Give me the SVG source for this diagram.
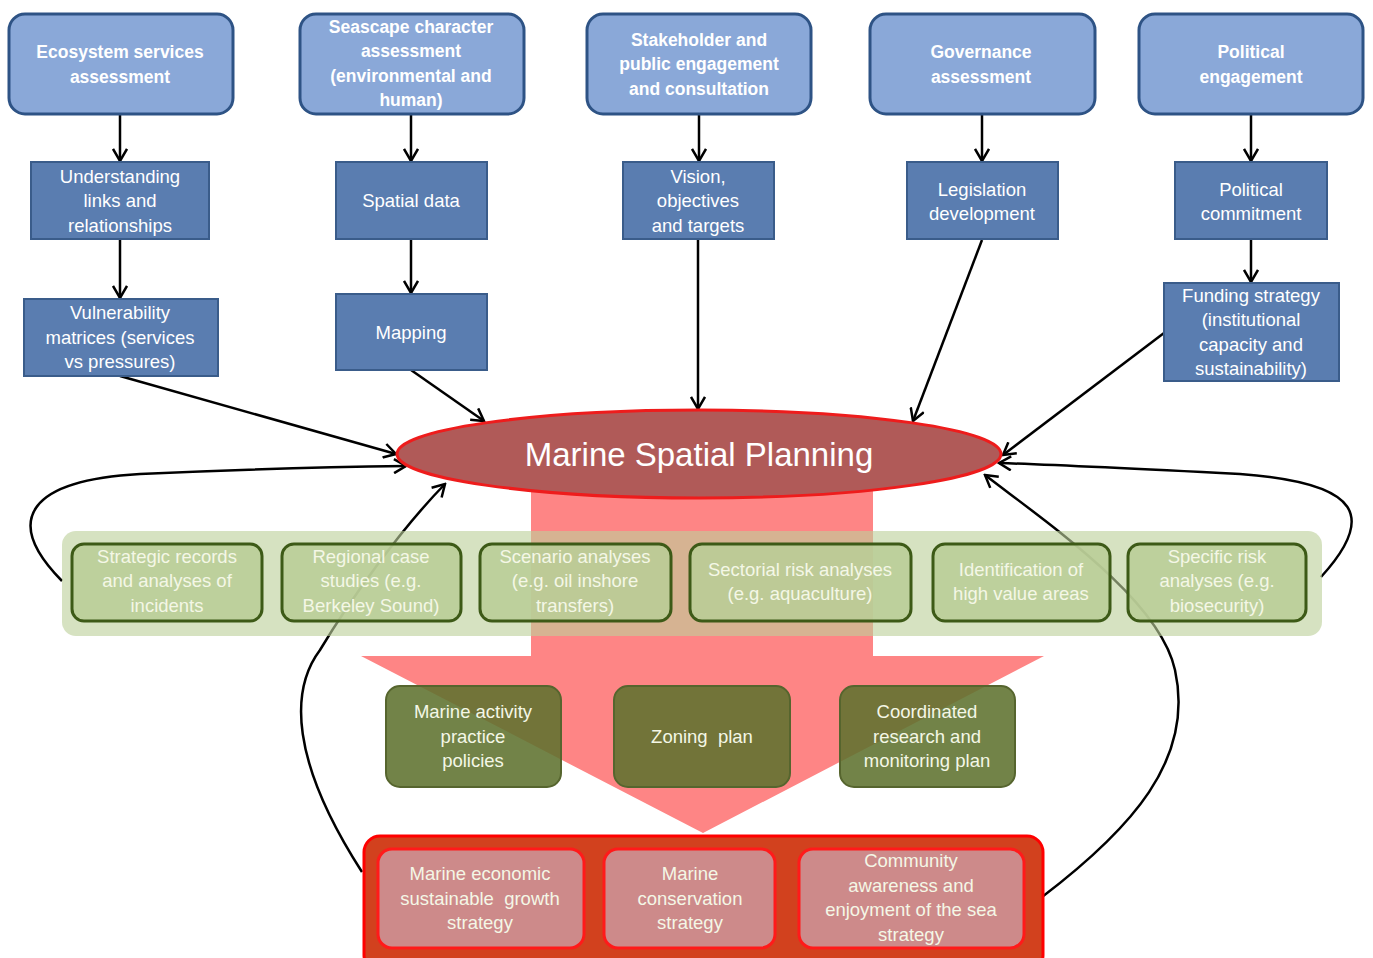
<svg xmlns="http://www.w3.org/2000/svg" width="1373" height="958" viewBox="0 0 1373 958">
<defs>
<marker id="ah" viewBox="0 0 16 16" refX="14" refY="8" markerWidth="16" markerHeight="16" markerUnits="userSpaceOnUse" orient="auto">
<path d="M2,1 L14,8 L2,15" fill="none" stroke="#000" stroke-width="2.5" stroke-linejoin="miter"/>
</marker>
<style>
.top{fill:#8aa8d8;stroke:#2e5385;stroke-width:3}
.mid{fill:#5a7db0;stroke:#3a5c8a;stroke-width:2}
.tb{font-family:'Liberation Sans',Arial,sans-serif;font-weight:bold;font-size:17.5px;fill:#fff;text-anchor:middle}
.tm{font-family:'Liberation Sans',Arial,sans-serif;font-size:18.5px;fill:#fff;text-anchor:middle}
.tg{font-family:'Liberation Sans',Arial,sans-serif;font-size:18.5px;fill:#f4f7e6;text-anchor:middle}
.gb{fill:#bacd96;fill-opacity:0.88;stroke:#3d5a17;stroke-width:3}
.dg{fill:#5f722f;fill-opacity:0.88;stroke:#56652e;stroke-width:2}
.pk{fill:#cd8a8a;stroke:#ff1a1a;stroke-width:3}
.con{fill:none;stroke:#000;stroke-width:2.5;marker-end:url(#ah)}
</style>
</defs>
<rect width="1373" height="958" fill="#fff"/>

<g id="big-arrow">
<path d="M531,470 L873,470 L873,656 L1044,656 L703,833 L361,656 L531,656 Z" fill="#fe8585"/>
</g>

<g id="connectors">
<line class="con" x1="120" y1="114" x2="120" y2="161"/>
<line class="con" x1="411" y1="114" x2="411" y2="161"/>
<line class="con" x1="699" y1="114" x2="699" y2="161"/>
<line class="con" x1="982" y1="114" x2="982" y2="161"/>
<line class="con" x1="1251" y1="114" x2="1251" y2="161"/>
<line class="con" x1="120" y1="239" x2="120" y2="298"/>
<line class="con" x1="411" y1="239" x2="411" y2="293"/>
<line class="con" x1="1251" y1="239" x2="1251" y2="282"/>
<line class="con" x1="698" y1="239" x2="698" y2="409"/>
<line class="con" x1="982" y1="240" x2="913" y2="421"/>
<line class="con" x1="1164" y1="333" x2="1003" y2="455"/>
<line class="con" x1="120" y1="376" x2="396" y2="454"/>
<line class="con" x1="411" y1="370" x2="484" y2="421"/>
<path class="con" d="M62,581 C0,518 32,480 140,474 C250,469 330,467 406,466"/>
<path class="con" d="M1321,577 C1375,518 1364,483 1240,474 C1140,469 1060,465 999,463"/>
<path class="con" d="M362,872 C290,760 290,690 320,650 C350,600 400,530 445,484"/>
<path class="con" d="M1042,897 C1130,830 1195,760 1175,670 C1160,600 1050,525 985,475"/>
</g>

<g id="msp">
<ellipse cx="699" cy="454" rx="302" ry="44" fill="#b05a58" stroke="#ee1c1c" stroke-width="3"/>
<text x="699" y="466" font-family="'Liberation Sans',Arial,sans-serif" font-size="33" fill="#fff" text-anchor="middle">Marine Spatial Planning</text>
</g>

<g id="band">
<rect x="62" y="531" width="1260" height="105" rx="14" fill="#bdd09b" fill-opacity="0.62"/>
</g>

<g id="n-strategic">
<rect class="gb" x="72" y="544" width="190" height="77" rx="12"/>
<text class="tg" x="167" y="563">Strategic records</text>
<text class="tg" x="167" y="587">and analyses of</text>
<text class="tg" x="167" y="612">incidents</text>
</g>
<g id="n-regional">
<rect class="gb" x="282" y="544" width="179" height="77" rx="12"/>
<text class="tg" x="371" y="563">Regional case</text>
<text class="tg" x="371" y="587">studies (e.g.</text>
<text class="tg" x="371" y="612">Berkeley Sound)</text>
</g>
<g id="n-scenario">
<rect class="gb" x="480" y="544" width="191" height="77" rx="12"/>
<text class="tg" x="575" y="563">Scenario analyses</text>
<text class="tg" x="575" y="587">(e.g. oil inshore</text>
<text class="tg" x="575" y="612">transfers)</text>
</g>
<g id="n-sectorial">
<rect class="gb" x="690" y="544" width="221" height="77" rx="12"/>
<text class="tg" x="800" y="576">Sectorial risk analyses</text>
<text class="tg" x="800" y="600">(e.g. aquaculture)</text>
</g>
<g id="n-identification">
<rect class="gb" x="933" y="544" width="177" height="77" rx="12"/>
<text class="tg" x="1021" y="576">Identification of</text>
<text class="tg" x="1021" y="600">high value areas</text>
</g>
<g id="n-specific">
<rect class="gb" x="1128" y="544" width="178" height="77" rx="12"/>
<text class="tg" x="1217" y="563">Specific risk</text>
<text class="tg" x="1217" y="587">analyses (e.g.</text>
<text class="tg" x="1217" y="612">biosecurity)</text>
</g>

<g id="n-marine-activity">
<rect class="dg" x="386" y="686" width="175" height="101" rx="14"/>
<text class="tg" x="473" y="718">Marine activity</text>
<text class="tg" x="473" y="743">practice</text>
<text class="tg" x="473" y="767">policies</text>
</g>
<g id="n-zoning">
<rect class="dg" x="614" y="686" width="176" height="101" rx="14"/>
<text class="tg" x="702" y="743" xml:space="preserve">Zoning  plan</text>
</g>
<g id="n-coordinated">
<rect class="dg" x="840" y="686" width="175" height="101" rx="14"/>
<text class="tg" x="927" y="718">Coordinated</text>
<text class="tg" x="927" y="743">research and</text>
<text class="tg" x="927" y="767">monitoring plan</text>
</g>

<g id="strategies">
<rect x="364" y="836" width="679" height="135" rx="16" fill="#d2411e" stroke="#ff0000" stroke-width="3"/>
</g>
<g id="n-economic">
<rect class="pk" x="378" y="849" width="206" height="99" rx="14"/>
<text class="tg" x="480" y="880">Marine economic</text>
<text class="tg" x="480" y="905" xml:space="preserve">sustainable  growth</text>
<text class="tg" x="480" y="929">strategy</text>
</g>
<g id="n-conservation">
<rect class="pk" x="604" y="849" width="171" height="99" rx="14"/>
<text class="tg" x="690" y="880">Marine</text>
<text class="tg" x="690" y="905">conservation</text>
<text class="tg" x="690" y="929">strategy</text>
</g>
<g id="n-community">
<rect class="pk" x="799" y="849" width="225" height="99" rx="14"/>
<text class="tg" x="911" y="867">Community</text>
<text class="tg" x="911" y="892">awareness and</text>
<text class="tg" x="911" y="916">enjoyment of the sea</text>
<text class="tg" x="911" y="941">strategy</text>
</g>

<g id="n-ecosystem">
<rect class="top" x="9" y="14" width="224" height="100" rx="16"/>
<text class="tb" x="120" y="58">Ecosystem services</text>
<text class="tb" x="120" y="83">assessment</text>
</g>
<g id="n-seascape">
<rect class="top" x="300" y="14" width="224" height="100" rx="16"/>
<text class="tb" x="411" y="33">Seascape character</text>
<text class="tb" x="411" y="57">assessment</text>
<text class="tb" x="411" y="82">(environmental and</text>
<text class="tb" x="411" y="106">human)</text>
</g>
<g id="n-stakeholder">
<rect class="top" x="587" y="14" width="224" height="100" rx="16"/>
<text class="tb" x="699" y="46">Stakeholder and</text>
<text class="tb" x="699" y="70">public engagement</text>
<text class="tb" x="699" y="95">and consultation</text>
</g>
<g id="n-governance">
<rect class="top" x="870" y="14" width="225" height="100" rx="16"/>
<text class="tb" x="981" y="58">Governance</text>
<text class="tb" x="981" y="83">assessment</text>
</g>
<g id="n-political">
<rect class="top" x="1139" y="14" width="224" height="100" rx="16"/>
<text class="tb" x="1251" y="58">Political</text>
<text class="tb" x="1251" y="83">engagement</text>
</g>

<g id="n-understanding">
<rect class="mid" x="31" y="162" width="178" height="77"/>
<text class="tm" x="120" y="183">Understanding</text>
<text class="tm" x="120" y="207">links and</text>
<text class="tm" x="120" y="232">relationships</text>
</g>
<g id="n-spatial">
<rect class="mid" x="336" y="162" width="151" height="77"/>
<text class="tm" x="411" y="207">Spatial data</text>
</g>
<g id="n-vision">
<rect class="mid" x="623" y="162" width="151" height="77"/>
<text class="tm" x="698" y="183">Vision,</text>
<text class="tm" x="698" y="207">objectives</text>
<text class="tm" x="698" y="232">and targets</text>
</g>
<g id="n-legislation">
<rect class="mid" x="907" y="162" width="151" height="77"/>
<text class="tm" x="982" y="196">Legislation</text>
<text class="tm" x="982" y="220">development</text>
</g>
<g id="n-commitment">
<rect class="mid" x="1175" y="162" width="152" height="77"/>
<text class="tm" x="1251" y="196">Political</text>
<text class="tm" x="1251" y="220">commitment</text>
</g>
<g id="n-vulnerability">
<rect class="mid" x="24" y="299" width="194" height="77"/>
<text class="tm" x="120" y="319">Vulnerability</text>
<text class="tm" x="120" y="344">matrices (services</text>
<text class="tm" x="120" y="368">vs pressures)</text>
</g>
<g id="n-mapping">
<rect class="mid" x="336" y="294" width="151" height="76"/>
<text class="tm" x="411" y="339">Mapping</text>
</g>
<g id="n-funding">
<rect class="mid" x="1164" y="283" width="175" height="98"/>
<text class="tm" x="1251" y="302">Funding strategy</text>
<text class="tm" x="1251" y="326">(institutional</text>
<text class="tm" x="1251" y="351">capacity and</text>
<text class="tm" x="1251" y="375">sustainability)</text>
</g>
</svg>
